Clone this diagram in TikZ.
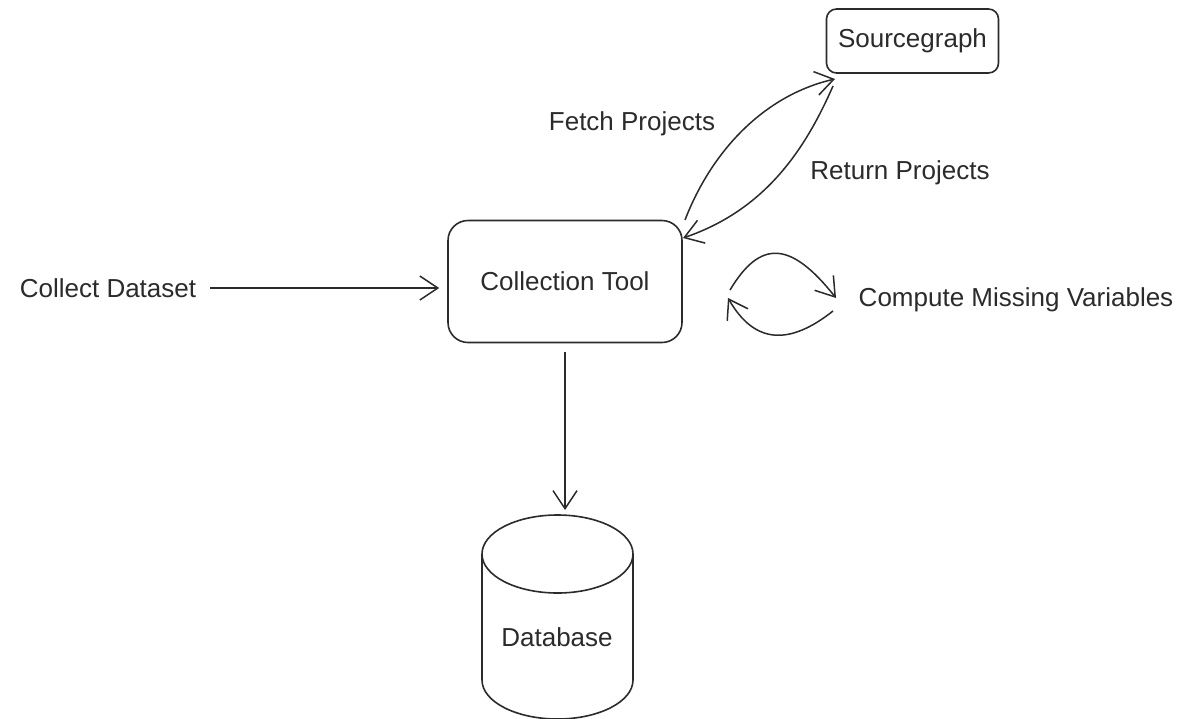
\documentclass[tikz,border=0pt]{standalone}
\usepackage{fontspec}
\setmainfont{Liberation Sans}
\usetikzlibrary{arrows.meta,calc}
\definecolor{ink}{HTML}{2B2B2B}
\begin{document}
\begin{tikzpicture}[x=1pt,y=-1pt,
  every node/.style={font=\fontsize{26}{30}\selectfont, text=ink},
  box/.style={draw=ink, line width=1.6pt, rounded corners=#1, inner sep=0pt},
  conn/.style={draw=ink, line width=1.5pt, -{Straight Barb[length=18pt,width=24pt,line width=1.5pt]}},
  lbl/.style={inner sep=0pt, anchor=center}]
\useasboundingbox (0,0) rectangle (1180,718);
\fill[white] (0,0) rectangle (1180,718);
% boxes
\node[box=10pt, minimum width=172pt, minimum height=64pt] (sg) at (912.5,41) {Sourcegraph};
\node[box=20pt, minimum width=234pt, minimum height=122pt] (ct) at (565,281.5) {Collection Tool};
% labels
\node[lbl] (cd) at (108,288) {Collect Dataset};
\node[lbl] (fp) at (632,124) {Fetch Projects};
\node[lbl] (rp) at (900,173) {Return Projects};
\node[lbl] (cm) at (1016,300) {Compute Missing Variables};
% database
\draw[ink, line width=1.6pt, fill=white] (482,554) -- (482,680) arc[start angle=180, end angle=0, x radius=75.5, y radius=39] -- (633,554);
\draw[ink, line width=1.6pt] (557.5,554) ellipse[x radius=75.5, y radius=39];
\node[lbl] (db) at (557,637) {Database};
\coordinate (dbtop) at (565,515);
% connectors
\draw[conn, shorten <=14pt, shorten >=8pt] (cd.east) -- (cd.east -| ct.west);
\draw[conn, shorten <=9pt, shorten >=5pt] (ct.south) -- (dbtop);
\coordinate (f1) at (685,220);
\coordinate (f2) at (835,79);
\coordinate (r1) at (833,86);
\coordinate (r2) at (683,238);
\draw[conn] (f1) .. controls (712,150) and (765,95) .. (f2);
\draw[conn] (r1) .. controls (805,150) and (765,210) .. (r2);
\coordinate (l1) at (730,290);
\coordinate (l2) at (836,298);
\coordinate (l3) at (833,311);
\coordinate (l4) at (728,298);
\draw[conn] (l1) .. controls (760,240) and (790,240) .. (l2);
\draw[conn] (l3) .. controls (790,345) and (755,345) .. (l4);
\end{tikzpicture}
\end{document}
